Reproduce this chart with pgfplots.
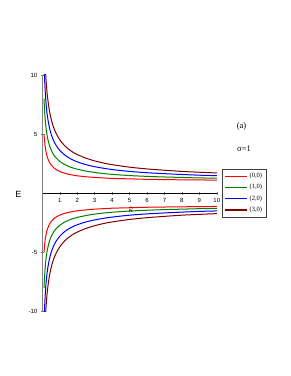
\documentclass[border=0pt]{standalone}
\usepackage{fontspec}
\setmainfont{Liberation Serif}
\setsansfont{Liberation Sans}
\usepackage{pgfplots}
\usepackage{pgfplotstable}
\pgfplotsset{compat=1.18}
\definecolor{cred}{RGB}{255,0,0}
\definecolor{cgreen}{RGB}{0,128,0}
\definecolor{cblue}{RGB}{0,0,255}
\definecolor{cmaroon}{RGB}{128,0,0}
\pgfplotstableread{
k r g b m
0.1 5.00 8.00 11.09 14.00
0.12 4.58 7.31 10.13 12.79
0.15 4.12 6.56 9.07 11.45
0.2 3.61 5.70 7.87 9.92
0.25 3.26 5.12 7.06 8.89
0.3 3.00 4.69 6.45 8.12
0.4 2.65 4.09 5.61 7.05
0.5 2.41 3.69 5.04 6.32
0.6 2.24 3.39 4.62 5.79
0.7 2.10 3.16 4.29 5.37
0.8 2.00 2.98 4.03 5.04
1 1.84 2.70 3.63 4.53
1.25 1.71 2.46 3.28 4.07
1.5 1.61 2.28 3.02 3.74
1.75 1.54 2.14 2.82 3.48
2 1.48 2.04 2.66 3.28
2.5 1.40 1.88 2.42 2.97
3 1.34 1.76 2.25 2.74
3.5 1.30 1.67 2.12 2.56
4 1.26 1.60 2.01 2.42
5 1.22 1.50 1.85 2.21
6 1.18 1.43 1.74 2.06
7 1.16 1.38 1.66 1.95
8 1.14 1.34 1.59 1.85
9 1.13 1.30 1.53 1.78
10 1.11 1.28 1.49 1.72
}\curves
\begin{document}
\begin{tikzpicture}[x=1pt,y=1pt]
\path[use as bounding box, fill=white] (0,0) rectangle (291,376);
\begin{axis}[
  at={(42.3pt,64.4pt)}, anchor=south west,
  scale only axis, width=174.5pt, height=236.6pt,
  xmin=0, xmax=10, ymin=-10, ymax=10,
  axis lines=middle, axis line style={-},
  x axis line style={black, line width=0.7pt},
  y axis line style={gray, line width=1pt},
  xtick={1,...,10}, ytick={-10,-5,0,5,10},
  minor x tick num=1, minor y tick num=4,
  tick style={black!55, line width=0.4pt},
  major tick length=3pt, minor tick length=1.5pt,
  ticklabel style={font=\fontsize{6}{7}\sffamily},
  /pgf/number format/assume math mode=true,
  legend style={name=leg, at={(1.0315,0.603)}, anchor=north west, draw=none, fill=white,
    font=\fontsize{6.5}{7.5}\selectfont, inner xsep=2pt, inner ysep=2pt, row sep=1.3pt,
    legend cell align=left},
  legend image code/.code={\draw[#1, line width=1.2pt] (0pt,0pt) -- (22pt,0pt);},
  every axis plot/.append style={line width=1pt, smooth},
  clip=true,
]
\addplot[cred] table[x=k,y=r] {\curves};
\addlegendentry{(0,0)}
\addplot[cgreen] table[x=k,y=g] {\curves};
\addlegendentry{(1,0)}
\addplot[cblue] table[x=k,y=b] {\curves};
\addlegendentry{(2,0)}
\addplot[cmaroon] table[x=k,y=m] {\curves};
\addlegendentry{(3,0)}
\addplot[cred, forget plot] table[x=k,y expr=-\thisrow{r}] {\curves};
\addplot[cgreen, forget plot] table[x=k,y expr=-\thisrow{g}] {\curves};
\addplot[cblue, forget plot] table[x=k,y expr=-\thisrow{b}] {\curves};
\addplot[cmaroon, forget plot] table[x=k,y expr=-\thisrow{m}] {\curves};
\end{axis}
\draw[black!75, line width=0.8pt] (leg.south west) rectangle (leg.north east);
\node[font=\fontsize{9}{10}\sffamily] at (18.5,182) {E};
\node[font=\fontsize{8.5}{10}\selectfont] at (131,166) {$\tilde{\kappa}$};
\node[font=\fontsize{8.5}{10}\selectfont] at (241.5,250) {(a)};
\node[font=\fontsize{8.5}{10}\selectfont] at (244,227) {σ=1};
\end{tikzpicture}
\end{document}
